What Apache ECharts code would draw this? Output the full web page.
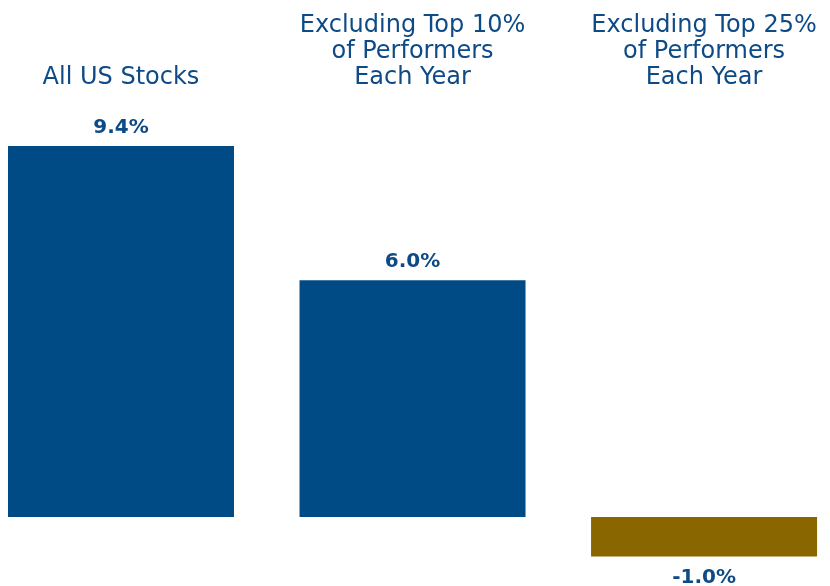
<!DOCTYPE html>
<html><head><meta charset="utf-8">
<script src="https://cdn.jsdelivr.net/npm/echarts@6/dist/echarts.min.js"></script>
<style>html,body{margin:0;padding:0;background:#fff}#c{width:830px;height:586px}</style>
</head><body><div id="c"></div>
<script>
const categories = ['All US Stocks', 'Excluding Top 10%\nof Performers\nEach Year', 'Excluding Top 25%\nof Performers\nEach Year'];
const values = [9.4, 6.0, -1.0];
const barColors = ['#004a85', '#004a85', '#8a6600'];

const chart = echarts.init(document.getElementById('c'));
chart.setOption({
  animation: false,
  grid: { left: 0, right: 0, top: 122.3, bottom: 9.8 },
  xAxis: {
    type: 'value', position: 'top', min: -0.415, max: 2.432,
    axisLine: { show: false, onZero: false }, axisTick: { show: false }, splitLine: { show: false },
    axisLabel: { customValues: [0, 1, 2], formatter: v => categories[Math.round(v)],
      color: '#0d4a86', fontFamily: 'DejaVu Sans', fontSize: 24, lineHeight: 26, margin: 32 }
  },
  yAxis: { type: 'value', min: -1.5, max: 10, show: false, splitLine: { show: false } },
  series: [{
    type: 'bar', barWidth: 226,
    data: values.map((v, i) => ({ value: [i, v], itemStyle: { color: barColors[i] },
      label: { position: v < 0 ? 'bottom' : 'top', distance: v < 0 ? 11 : 8 } })),
    label: { show: true, color: '#0d4a86', fontFamily: 'DejaVu Sans', fontWeight: 'bold', fontSize: 20,
      formatter: p => p.value[1].toFixed(1) + '%' }
  }]
});
</script></body></html>
